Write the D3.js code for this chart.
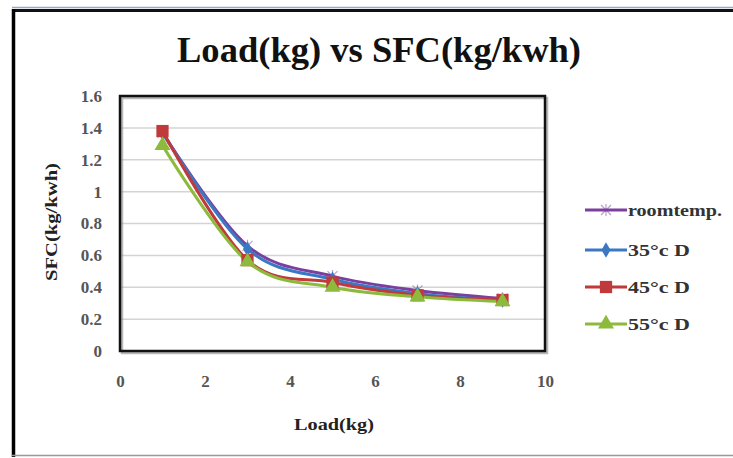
<!DOCTYPE html>
<html><head><meta charset="utf-8">
<script src="https://cdn.jsdelivr.net/npm/d3@7"></script>
<style>body{margin:0;background:#fff}svg{display:block}
text{font-family:"Liberation Serif","Times New Roman","DejaVu Serif",serif}</style>
</head><body>
<svg id="c" width="733" height="458"></svg>
<script>
const loads = [1, 3, 5, 7, 9];
const seriesNames = ["roomtemp.", "35°c D", "45°c D", "55°c D"];
const roomtemp = [1.37, 0.66, 0.47, 0.38, 0.33];
const c35 = [1.37, 0.64, 0.45, 0.36, 0.32];
const c45 = [1.38, 0.57, 0.43, 0.35, 0.32];
const c55 = [1.29, 0.56, 0.40, 0.34, 0.31];
const yTicks = [0, 0.2, 0.4, 0.6, 0.8, 1, 1.2, 1.4, 1.6];
const xTicks = [0, 2, 4, 6, 8, 10];
const colors = ["#7b3fa0", "#3a78c3", "#c0393b", "#8cba3c"];
const symbols = ["x", "diamond", "square", "triangle"];
const allVals = [roomtemp, c35, c45, c55];

const svg = d3.select("#c");

// outer frame
svg.append("line").attr("x1",12).attr("x2",733).attr("y1",7.5).attr("y2",7.5).attr("stroke","#9aa8bf").attr("stroke-width",1.5);
svg.append("line").attr("x1",12).attr("x2",733).attr("y1",10.5).attr("y2",10.5).attr("stroke","#111").attr("stroke-width",3);
svg.append("line").attr("x1",13.5).attr("x2",13.5).attr("y1",9).attr("y2",457).attr("stroke","#000").attr("stroke-width",3.5);
svg.append("line").attr("x1",12).attr("x2",733).attr("y1",455.5).attr("y2",455.5).attr("stroke","#999").attr("stroke-width",1.5);

const x = d3.scaleLinear().domain([0,10]).range([120,545]);
const y = d3.scaleLinear().domain([0,1.6]).range([351,96]);

// title
svg.append("text").attr("x",379).attr("y",62).attr("text-anchor","middle")
  .attr("font-weight","bold").attr("font-size",36).attr("fill","#111")
  .attr("textLength",404).attr("lengthAdjust","spacingAndGlyphs")
  .text("Load(kg) vs SFC(kg/kwh)");

// gridlines
svg.append("g").selectAll("line").data(yTicks.slice(1)).join("line")
  .attr("x1",120).attr("x2",545).attr("y1",d=>y(d)).attr("y2",d=>y(d))
  .attr("stroke","#d4d4d4").attr("stroke-width",1.5);

// plot box shadow + border
svg.append("rect").attr("x",122).attr("y",98).attr("width",425).attr("height",255)
  .attr("fill","none").attr("stroke","#888").attr("stroke-width",2.5).attr("opacity",0.6);
svg.append("rect").attr("x",120).attr("y",96).attr("width",425).attr("height",255)
  .attr("fill","none").attr("stroke","#111").attr("stroke-width",2.5);

const yAxis = svg.append("g").attr("transform","translate(120,0)")
  .call(d3.axisLeft(y).tickValues(yTicks).tickSize(0).tickPadding(18).tickFormat(d3.format("")));
yAxis.select(".domain").remove();
yAxis.attr("font-family",null);
yAxis.selectAll("text").attr("font-weight","bold").attr("font-size",17).attr("fill","#555");

const xAxis = svg.append("g").attr("transform","translate(0,351)")
  .call(d3.axisBottom(x).tickValues(xTicks).tickSize(0).tickPadding(24));
xAxis.select(".domain").remove();
xAxis.attr("font-family",null);
xAxis.selectAll("text").attr("font-weight","bold").attr("font-size",17).attr("fill","#555");

svg.append("text").attr("x",334).attr("y",430).attr("text-anchor","middle")
  .attr("font-weight","bold").attr("font-size",17).attr("fill","#222")
  .attr("textLength",80).attr("lengthAdjust","spacingAndGlyphs").text("Load(kg)");
svg.append("text").attr("transform","translate(57,222) rotate(-90)").attr("text-anchor","middle")
  .attr("font-weight","bold").attr("font-size",17).attr("fill","#222")
  .attr("textLength",118).attr("lengthAdjust","spacingAndGlyphs").text("SFC(kg/kwh)");

const line = d3.line().x((d,i)=>x(loads[i])).y(d=>y(d)).curve(d3.curveCatmullRom.alpha(0));

function drawMarker(g, type, cx, cy, col, size) {
  if (type === "x") {
    const s = 5;
    g.append("path").attr("d",`M${cx-s},${cy-s}L${cx+s},${cy+s}M${cx-s},${cy+s}L${cx+s},${cy-s}M${cx},${cy-s-1}L${cx},${cy+s+1}`)
      .attr("stroke",col).attr("stroke-width",1.2).attr("opacity",0.5).attr("fill","none");
  } else {
    const sym = {diamond:d3.symbolDiamond, square:d3.symbolSquare, triangle:d3.symbolTriangle}[type];
    g.append("path").attr("d",d3.symbol(sym, size)()).attr("transform",`translate(${cx},${cy})`).attr("fill",col);
  }
}
const sizes = [0, 70, 150, 110];

allVals.forEach((vals,si)=>{
  svg.append("path").attr("d",line(vals)).attr("fill","none").attr("stroke",colors[si]).attr("stroke-width",3);
});
allVals.forEach((vals,si)=>{
  const g = svg.append("g");
  vals.forEach((v,i)=>drawMarker(g, symbols[si], x(loads[i]), y(v), colors[si], sizes[si]));
});

// legend
const legY = [210, 250, 287, 324];
const legW = [94, 62, 62, 62];
seriesNames.forEach((n,i)=>{
  const g = svg.append("g");
  g.append("line").attr("x1",585).attr("x2",627).attr("y1",legY[i]).attr("y2",legY[i]).attr("stroke",colors[i]).attr("stroke-width",3);
  drawMarker(g, symbols[i], 606, legY[i], colors[i], sizes[i]);
  g.append("text").attr("x",628).attr("y",legY[i]+6).attr("font-weight","bold")
    .attr("font-size",17).attr("fill","#333")
    .attr("textLength",legW[i]).attr("lengthAdjust","spacingAndGlyphs").text(n);
});
</script>
</body></html>
